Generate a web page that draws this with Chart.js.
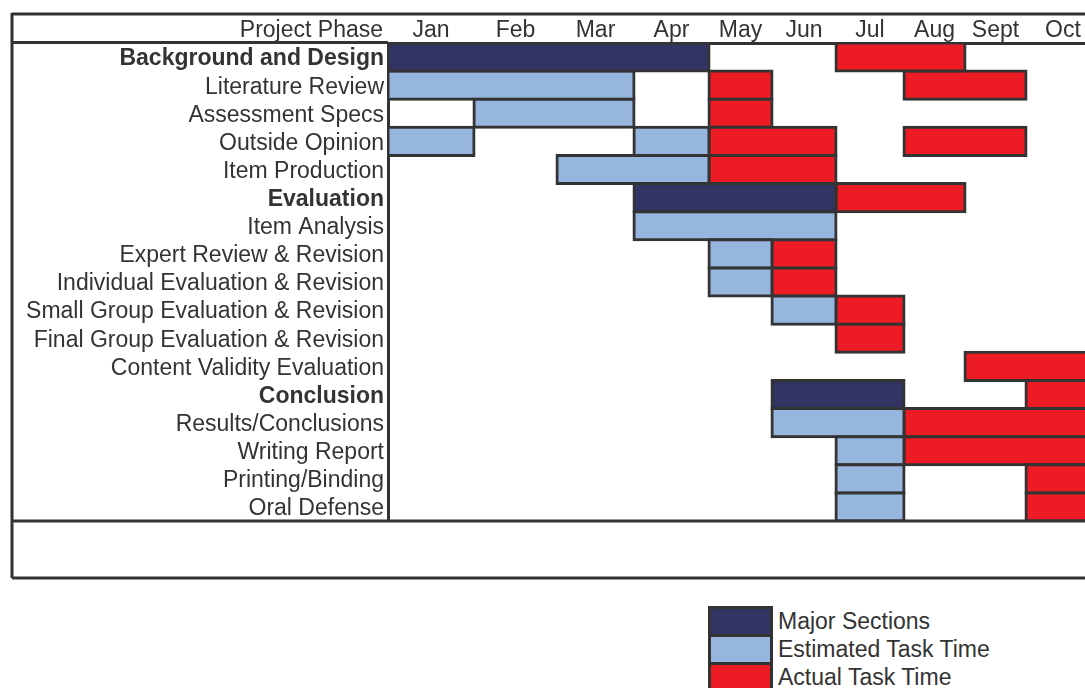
<!DOCTYPE html>
<html>
<head>
<meta charset="utf-8">
<title>Project Phase Gantt</title>
<script src="https://cdn.jsdelivr.net/npm/chart.js@4/dist/chart.umd.min.js"></script>
<style>
    html, body { margin: 0; padding: 0; background: #fff; overflow: hidden; }
    #wrap { position: relative; width: 1085px; height: 688px; overflow: hidden; }
    #chart { position: absolute; left: 0; top: 0; }
    #legend {
        position: absolute; left: 708px; top: 606px;
        font-family: "Liberation Sans", Arial, sans-serif; font-size: 23px; color: #333;
    }
    .legend-item { display: flex; align-items: center; height: 31px; margin-top: -3px; }
    .legend-item:first-child { margin-top: 0; }
    .swatch { width: 65px; height: 31px; box-sizing: border-box; border: 3px solid #333; margin-right: 5px; }
</style>
</head>
<body>
<div id="wrap">
    <canvas id="chart" width="1100" height="590"></canvas>
    <div id="legend"></div>
</div>
<script>
// Rows of the chart, top to bottom
const tasks = [
    'Background and Design', 'Literature Review', 'Assessment Specs', 'Outside Opinion',
    'Item Production', 'Evaluation', 'Item Analysis', 'Expert Review & Revision',
    'Individual Evaluation & Revision', 'Small Group Evaluation & Revision',
    'Final Group Evaluation & Revision', 'Content Validity Evaluation', 'Conclusion',
    'Results/Conclusions', 'Writing Report', 'Printing/Binding', 'Oral Defense'
];
const sectionRows = ['Background and Design', 'Evaluation', 'Conclusion'];
const months = ['Jan', 'Feb', 'Mar', 'Apr', 'May', 'Jun', 'Jul', 'Aug', 'Sept', 'Oct'];

// spans in months: 0 = start of Jan, 10 = end of Oct
const majorSpans = [
    [0, 4], null, null, null, null, [3, 6], null, null, null, null, null, null, [5, 7], null, null, null, null
];
const estimatedSpans = [
    null, [0, 3], [1, 3], [0, 1], [2, 4], null, [3, 6], [4, 5], [4, 5], [5, 6], null, null, null, [5, 7], [6, 7], [6, 7], [6, 7]
];
const estimatedSpans2 = [
    null, null, null, [3, 4], null, null, null, null, null, null, null, null, null, null, null, null, null
];
const actualSpans = [
    [6, 8], [4, 5], [4, 5], [4, 6], [4, 6], [6, 8], null, [5, 6], [5, 6], [6, 7], [6, 7], [8, 10], [9, 10], [7, 10], [7, 10], [9, 10], [9, 10]
];
const actualSpans2 = [
    null, [7, 9], null, [7, 9], null, null, null, null, null, null, null, null, null, null, null, null, null
];

// spreadsheet column widths (relative), one per month
const colWidths = [86, 83, 77, 75, 63, 64, 68, 61, 61, 74];

const FONT = '"Liberation Sans", Arial, sans-serif';
const DARK = '#323463';
const LIGHT = '#97b6df';
const RED = '#ed1c24';
const LINE = '#333333';

// linear scale whose months have uneven widths, like spreadsheet columns
class ColumnScale extends Chart.LinearScale {
    buildTicks() {
        super.buildTicks();
        return months.map((m, i) => ({ value: i + 0.5 }));
    }
    getPixelForValue(value) {
        if (value === null || value === undefined || isNaN(value)) return NaN;
        const total = colWidths.reduce((a, b) => a + b, 0);
        const v = Math.max(0, Math.min(colWidths.length, value));
        const i = Math.min(Math.floor(v), colWidths.length - 1);
        let cum = 0;
        for (let k = 0; k < i; k++) cum += colWidths[k];
        return this.getPixelForDecimal((cum + (v - i) * colWidths[i]) / total);
    }
}
ColumnScale.id = 'column';
ColumnScale.defaults = Chart.LinearScale.defaults;
Chart.register(ColumnScale);

const framePlugin = {
    id: 'frame',
    afterDraw(chart) {
        const { ctx, chartArea: a, width } = chart;
        ctx.save();
        ctx.strokeStyle = LINE;
        ctx.lineWidth = 3;
        ctx.beginPath();
        ctx.moveTo(12, a.top - 29); ctx.lineTo(width, a.top - 29);
        ctx.moveTo(12, a.top - 30); ctx.lineTo(12, a.bottom + 57);
        ctx.moveTo(12, a.bottom); ctx.lineTo(width, a.bottom);
        ctx.moveTo(12, a.bottom + 57); ctx.lineTo(width, a.bottom + 57);
        ctx.moveTo(12, a.top - 0.5); ctx.lineTo(a.left, a.top - 0.5);
        ctx.stroke();
        ctx.fillStyle = LINE;
        ctx.font = '23px ' + FONT;
        ctx.textAlign = 'right';
        ctx.textBaseline = 'middle';
        ctx.fillText('Project Phase', a.left - 5, a.top - 12);
        ctx.restore();
    }
};

// borders sit centred on the bar edges, so neighbours share one line
const barStyle = {
    borderColor: LINE,
    borderWidth: 3,
    inflateAmount: 1.5,
    borderSkipped: false,
    barPercentage: 1,
    categoryPercentage: 1,
    grouped: false
};

const chart = new Chart(document.getElementById('chart'), {
    type: 'bar',
    data: {
        labels: tasks,
        datasets: [
            { label: 'Major Sections', data: majorSpans, backgroundColor: DARK, ...barStyle },
            { label: 'Estimated Task Time', data: estimatedSpans, backgroundColor: LIGHT, ...barStyle },
            { label: 'Estimated Task Time', data: estimatedSpans2, backgroundColor: LIGHT, ...barStyle },
            { label: 'Actual Task Time', data: actualSpans, backgroundColor: RED, ...barStyle },
            { label: 'Actual Task Time', data: actualSpans2, backgroundColor: RED, ...barStyle }
        ]
    },
    plugins: [framePlugin],
    options: {
        indexAxis: 'y',
        responsive: false,
        animation: false,
        events: [],
        layout: { padding: { left: 0, right: 0, top: 0, bottom: 69 } },
        plugins: { legend: { display: false }, tooltip: { enabled: false } },
        scales: {
            x: {
                type: 'column',
                position: 'top',
                min: 0,
                max: colWidths.length,
                grid: { display: false, drawTicks: false },
                border: { display: true, color: LINE, width: 3 },
                afterFit: (s) => { s.height = 43; },
                ticks: {
                    autoSkip: false,
                    maxRotation: 0,
                    padding: -1,
                    color: LINE,
                    font: { family: FONT, size: 23 },
                    callback: (v, i) => months[i]
                }
            },
            y: {
                type: 'category',
                grid: { display: false, drawTicks: false },
                border: { display: true, color: LINE, width: 3 },
                afterFit: (s) => { s.width = 388; },
                ticks: {
                    autoSkip: false,
                    padding: 4,
                    labelOffset: 2,
                    color: LINE,
                    font: (c) => ({
                        family: FONT,
                        size: 23,
                        weight: sectionRows.includes(tasks[c.index]) ? 'bold' : 'normal'
                    })
                }
            }
        }
    }
});

// legend built from the chart's datasets (one entry per colour)
const legendBox = document.getElementById('legend');
const seen = new Set();
chart.data.datasets.forEach(ds => {
    if (seen.has(ds.label)) return;
    seen.add(ds.label);
    const item = document.createElement('div');
    item.className = 'legend-item';
    item.innerHTML = `<span class="swatch" style="background:${ds.backgroundColor}"></span><span>${ds.label}</span>`;
    legendBox.appendChild(item);
});
</script>
</body>
</html>
